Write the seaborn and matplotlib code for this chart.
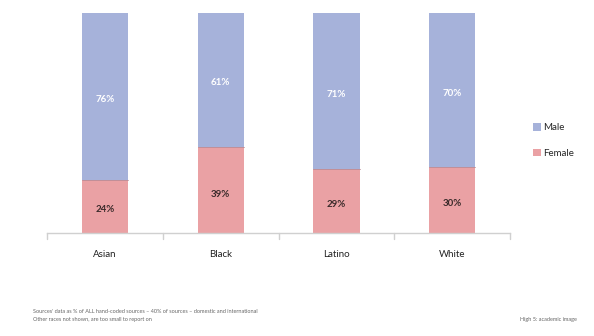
import matplotlib
matplotlib.use("Agg")
import matplotlib.pyplot as plt
import seaborn as sns
import pandas as pd

groups = ["Asian", "Black", "Latino", "White"]
female = [24, 39, 29, 30]
male = [76, 61, 71, 70]

male_color = "#A6B2DA"
female_color = "#EAA1A4"

sns.set_theme(style="white")
plt.rcParams["font.family"] = ["Lato", "DejaVu Sans"]

df = pd.DataFrame({"group": groups, "female": female, "male": male})
df["total"] = df["female"] + df["male"]

fig = plt.figure(figsize=(5.94, 3.36), dpi=100)
ax = fig.add_axes([0.079, 0.3065, 0.78, 0.655])

# stacked bars: full column in male colour, female share drawn over it
sns.barplot(data=df, x="group", y="total", color=male_color, width=0.4,
            saturation=1, ax=ax, label="Male", linewidth=0)
sns.barplot(data=df, x="group", y="female", color=female_color, width=0.4,
            saturation=1, ax=ax, label="Female", linewidth=0)

for i, (f, m) in enumerate(zip(female, male)):
    ax.plot([i - 0.2, i + 0.2], [f, f], color="#b98c96", lw=0.6)
    ax.text(i, f * 0.45, f"{f}%", ha="center", va="center", fontsize=7,
            color="#3a2a2a", fontweight="bold")
    ax.text(i, f + m * 0.48, f"{m}%", ha="center", va="center", fontsize=7,
            color="white", fontweight="bold")

ax.set_ylim(0, 100)
ax.set_xlim(-0.5, 3.5)
ax.set_xlabel("")
ax.set_ylabel("")
ax.set_yticks([])
ax.tick_params(axis="x", length=0, labelsize=7, colors="#222222", pad=12)
for s in ["top", "right", "left"]:
    ax.spines[s].set_visible(False)
ax.spines["bottom"].set_color("#d0d0d0")
ax.spines["bottom"].set_linewidth(1)
for b in [-0.5, 0.5, 1.5, 2.5, 3.5]:
    ax.plot([b, b], [0, -2.5], color="#d0d0d0", lw=1, clip_on=False)

handles, labels = ax.get_legend_handles_labels()
leg = ax.legend(handles, labels, loc="center left",
                bbox_to_anchor=(1.03, 0.42), frameon=False, fontsize=7,
                handlelength=0.8, handleheight=0.8, handletextpad=0.3,
                labelspacing=1.7)

fig.text(0.055, 0.068,
         "Sources' data as % of ALL hand-coded sources \u2013 40% of sources \u2013 domestic and international",
         fontsize=4, color="#666666")
fig.text(0.055, 0.045, "Other races not shown, are too small to report on",
         fontsize=4, color="#666666")
fig.text(0.875, 0.045, "High 5: academic image", fontsize=4, color="#666666")

fig.savefig("out.png", dpi=100)
